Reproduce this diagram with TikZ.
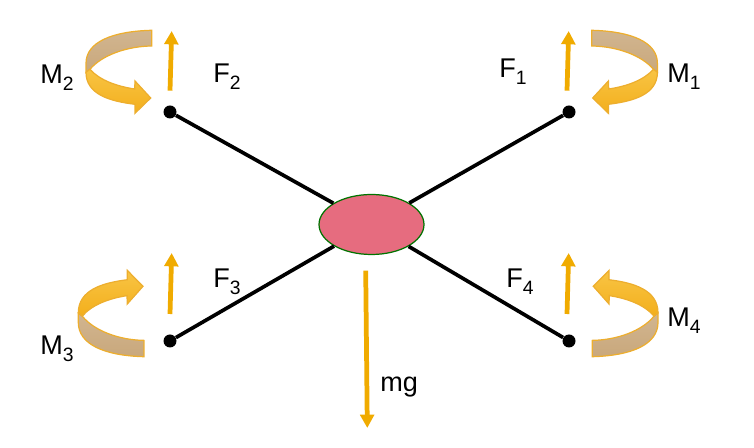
\documentclass[tikz,border=0pt]{standalone}
\usepackage{fontspec}
\setmainfont{Liberation Sans}
\usetikzlibrary{arrows.meta,shapes.geometric}
\definecolor{forcecol}{HTML}{F0AB00}
\definecolor{bandcol}{HTML}{C9A87C}
\definecolor{edgecol}{HTML}{EDAE2E}
\definecolor{bodycol}{HTML}{E66C7F}
\definecolor{goldtop}{HTML}{F8C444}
\definecolor{goldlow}{HTML}{F3AF1C}
\tikzset{
	dot/.style={circle,fill=black,inner sep=0,minimum size=0.26cm},
	body/.style={ellipse,draw=green!45!black,line width=0.7pt,fill=bodycol,inner sep=0,minimum width=2.1cm,minimum height=1.2cm},
	arm/.style={line width=2.1pt,black},
	force/.style={line width=2.7pt,forcecol,-{Triangle[width=7.8pt,length=7.6pt]}},
	lab/.style={inner sep=0,anchor=base west,font=\fontsize{15.4}{18}\selectfont}
}
\def\sub#1{\raisebox{-3.8pt}{\fontsize{11}{12}\selectfont #1}}
% twisted band with arrow head, M2 is the plain one
\def\ribbon[#1]{
	\begin{scope}[#1]
		\draw[edgecol,line width=0.7pt,top color=bandcol!85!white,bottom color=bandcol] (0, 0) .. controls (-40, 1) and (-65.7, 12) .. (-65.7, 33) -- (-65.7, 42) -- (-61.7, 39) .. controls (-50, 25) and (-25, 16) .. (0, 15.7) -- cycle;
		\draw[edgecol,line width=0.7pt,top color=goldtop,bottom color=goldlow] (-61.7, 39) .. controls (-52, 50) and (-35, 56) .. (-17, 58.7) -- (-16.7, 50.7) -- (-1, 67.7) -- (-16.7, 83) -- (-16.7, 74) .. controls (-42, 71) and (-65.7, 64) .. (-65.7, 42) -- cycle;
	\end{scope}
}

\begin{document}
\begin{tikzpicture}[x=0.02cm,y=-0.02cm]
		%%%%% START %%%%%
		\useasboundingbox (0, 0) rectangle (754, 448);
		
		\node[body] (hub) at (371.5, 224.5) {};
		\node[dot] (rotor1) at (569, 112) {};
		\node[dot] (rotor2) at (170, 112) {};
		\node[dot] (rotor3) at (170, 341) {};
		\node[dot] (rotor4) at (569, 341) {};
		
		\draw[arm] (hub) -- (rotor1);
		\draw[arm] (hub) -- (rotor2);
		\draw[arm] (hub) -- (rotor3);
		\draw[arm] (hub) -- (rotor4);
		
		\coordinate (f1a) at (567, 90.7);
		\coordinate (f1b) at (568.7, 31);
		\coordinate (f2a) at (170, 90.7);
		\coordinate (f2b) at (171.7, 31);
		\coordinate (f3a) at (170, 314);
		\coordinate (f3b) at (171.7, 253);
		\coordinate (f4a) at (567, 314);
		\coordinate (f4b) at (568.7, 253);
		\coordinate (mga) at (365.7, 270.7);
		\coordinate (mgb) at (367.3, 428);
		
		\draw[force] (f1a) -- (f1b);
		\draw[force] (f2a) -- (f2b);
		\draw[force] (f3a) -- (f3b);
		\draw[force] (f4a) -- (f4b);
		\draw[force] (mga) -- (mgb);
		
		\ribbon[shift={(591.7, 30.3)},xscale=-1];
		\ribbon[shift={(151.7, 30.3)}];
		\ribbon[shift={(144, 356.7)},yscale=-1.04];
		\ribbon[shift={(592.3, 356.7)},xscale=-1,yscale=-1.04];
		
		\node[lab] (lf1) at (499, 78) {F\sub{1}};
		\node[lab] (lf2) at (213, 82.7) {F\sub{2}};
		\node[lab] (lf3) at (213, 288) {F\sub{3}};
		\node[lab] (lf4) at (506, 288) {F\sub{4}};
		\node[lab] (lm1) at (667, 82.7) {M\sub{1}};
		\node[lab] (lm2) at (40, 83.5) {M\sub{2}};
		\node[lab] (lm3) at (40, 355) {M\sub{3}};
		\node[lab] (lm4) at (667, 326.7) {M\sub{4}};
		\node[lab] (lmg) at (380, 391.7) {mg};
		%%%%% END %%%%%
	\end{tikzpicture}
\end{document}
